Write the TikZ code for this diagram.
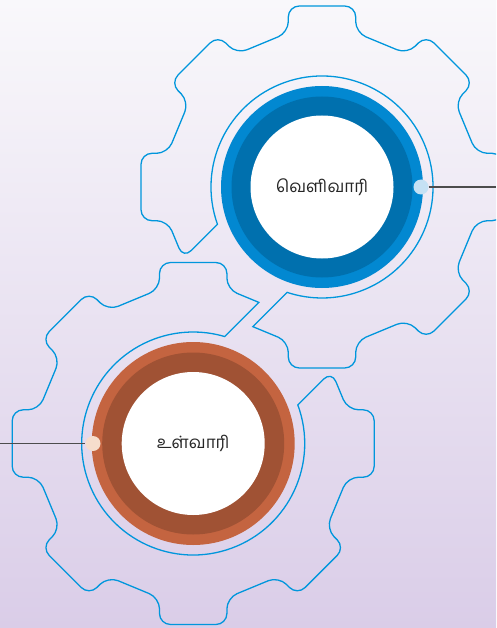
\documentclass[tikz,border=0pt]{standalone}
\usepackage{fontspec}
\newfontfamily\tamilfont[Script=Tamil]{Hind Madurai}

\definecolor{bgtop}{RGB}{249,248,251}
\definecolor{bgbot}{RGB}{218,205,232}
\definecolor{gearblue}{RGB}{0,150,220}
\definecolor{ringblue}{RGB}{2,136,209}
\definecolor{ringdarkblue}{RGB}{0,112,174}
\definecolor{ringorange}{RGB}{196,100,64}
\definecolor{ringbrown}{RGB}{160,82,52}
\definecolor{dotblue}{RGB}{197,225,244}
\definecolor{dotpeach}{RGB}{246,221,204}

\tikzset{
  gearline/.style={draw=gearblue, line width=1.3pt},
  disc/.style={circle, inner sep=0pt, minimum size=#1},
  label/.style={font=\tamilfont\fontsize{17}{20}\selectfont, text=black!85},
  knob/.style={circle, inner sep=0pt, minimum size=15pt},
  link/.style={draw=black!70, line width=1.2pt}
}

\begin{document}
\begin{tikzpicture}[x=1pt,y=1pt]

\useasboundingbox (0,0) rectangle (496,-628);
\clip (0,0) rectangle (496,-628);
\shade[top color=bgtop, bottom color=bgbot] (0,0) rectangle (496,-628);

%Upper gear
\begin{scope}[shift={(322,-187)}]
\draw[gearline] (243.64:155.85) [rounded corners=11pt]
  \foreach \a in {270,315,...,540} { -- ({\a-12.32}:158) -- ({\a-10.55}:184.1) -- ({\a+10.55}:184.1) -- ({\a+12.32}:158) }
  -- (567.24:156.03) [sharp corners] -- (559.6:111) arc[start angle=199.6, end angle=-108.34, radius=111] -- cycle;
\end{scope}

%Lower gear
\begin{scope}[shift={(193.2,-443.5)}]
\draw[gearline] (65.07:155.64) [rounded corners=11pt]
  \foreach \a in {90,135,...,360} { -- ({\a-12.32}:158) -- ({\a-10.55}:184.1) -- ({\a+10.55}:184.1) -- ({\a+12.32}:158) }
  -- (387.59:156.12) [sharp corners] -- (380.24:111.5) arc[start angle=20.24, end angle=-286.38, radius=111.5] -- cycle;
\end{scope}

%Upper disc
\node[disc=202pt, fill=ringblue] (ringU) at (322,-187) {};
\node[disc=181pt, fill=ringdarkblue] (bandU) at (322,-187) {};
\node[disc=143pt, fill=white, label] (outer) at (322,-187) {வெளிவாரி};

%Lower disc
\node[disc=203pt, fill=ringorange] (ringL) at (193.2,-443.5) {};
\node[disc=182pt, fill=ringbrown] (bandL) at (193.2,-443.5) {};
\node[disc=143pt, fill=white, label] (inner) at (193.2,-443.5) {உள்வாரி};

%Side lines
\node[knob, fill=dotblue] (knobU) at (421,-187) {};
\coordinate (endU) at (496,-187);
\draw[link] (knobU) -- (endU);

\node[knob, fill=dotpeach] (knobL) at (93,-443.5) {};
\coordinate (endL) at (0,-443.5);
\draw[link] (endL) -- (knobL);

\end{tikzpicture}
\end{document}
